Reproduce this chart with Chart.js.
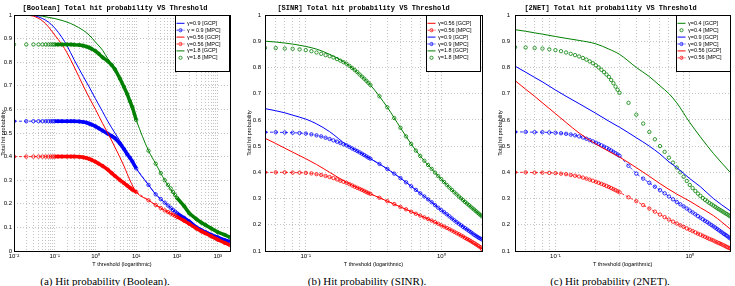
<!DOCTYPE html>
<html>
<head>
<meta charset="utf-8">
<script src="https://cdn.jsdelivr.net/npm/chart.js@4.4.1/dist/chart.umd.min.js"></script>
<style>
    body { margin: 0; background: #fff; width: 735px; height: 286px; overflow: hidden; position: relative; }
    canvas { position: absolute; top: 0; }
    .caption { position: absolute; top: 275px; width: 220px; line-height: 12px; text-align: center;
               font: 11px "Liberation Serif", "DejaVu Serif", serif; color: #000; white-space: nowrap; }
</style>
</head>
<body>
<canvas id="boolChart" width="240" height="270" style="left:0px"></canvas>
<canvas id="sinrChart" width="242" height="270" style="left:245px"></canvas>
<canvas id="netChart" width="245" height="270" style="left:490px"></canvas>
<div class="caption" style="left:-5px">(a) Hit probability (Boolean).</div>
<div class="caption" style="left:257px">(b) Hit probability (SINR).</div>
<div class="caption" style="left:500px">(c) Hit probability (2NET).</div>

<script>
// ---- (a) Boolean ----
const boolDecades = [0.01, 0.1, 1, 10, 100, 1000];
const boolTickLabels = ['10⁻²', '10⁻¹', '10⁰', '10¹', '10²', '10³'];

const boolGcpX = [0.01, 0.02, 0.03, 0.05, 0.07, 0.1, 0.15, 0.2, 0.3, 0.5, 0.7, 1, 1.5, 2, 3, 5, 7, 10, 20, 30, 50, 100, 200, 500, 1000, 2000];
const boolBlueGcp  = [1, 1, 0.998, 0.985, 0.97, 0.945, 0.905, 0.87, 0.81, 0.74, 0.695, 0.645, 0.59, 0.55, 0.50, 0.44, 0.40, 0.35, 0.28, 0.24, 0.205, 0.16, 0.125, 0.08, 0.058, 0.04];
const boolRedGcp   = [1, 0.999, 0.995, 0.975, 0.95, 0.915, 0.875, 0.84, 0.78, 0.70, 0.65, 0.60, 0.54, 0.50, 0.44, 0.36, 0.30, 0.25, 0.215, 0.195, 0.172, 0.145, 0.115, 0.075, 0.048, 0.025];
const boolGreenGcp = [1, 1, 0.999, 0.995, 0.99, 0.985, 0.977, 0.97, 0.957, 0.935, 0.915, 0.885, 0.85, 0.815, 0.77, 0.695, 0.635, 0.555, 0.425, 0.37, 0.30, 0.225, 0.16, 0.11, 0.08, 0.058];

const boolMpcX = [0.01, 0.02, 0.03, 0.04, 0.05, 0.06, 0.07, 0.08, 0.09,
    0.1, 0.12, 0.15, 0.2, 0.25, 0.3, 0.4, 0.5, 0.6, 0.7, 0.8, 1, 1.2, 1.5, 2, 2.5, 3, 4, 5, 6, 7, 8, 10,
    20, 30, 40, 50, 60, 70, 80, 90, 100, 150, 200, 300, 400, 500, 700, 1000, 1500, 2000];
const boolBlueMpc = [0.55, 0.55, 0.55, 0.55, 0.55, 0.55, 0.55, 0.55, 0.55,
    0.55, 0.55, 0.55, 0.55, 0.55, 0.55, 0.549, 0.547, 0.544, 0.54, 0.536, 0.528, 0.52, 0.51, 0.497, 0.487, 0.478, 0.455, 0.432, 0.41, 0.395, 0.38, 0.35,
    0.28, 0.24, 0.22, 0.205, 0.193, 0.183, 0.174, 0.167, 0.16, 0.14, 0.125, 0.10, 0.088, 0.08, 0.068, 0.058, 0.046, 0.04];
const boolRedMpc = [0.40, 0.40, 0.40, 0.40, 0.40, 0.40, 0.40, 0.40, 0.40,
    0.40, 0.40, 0.40, 0.40, 0.40, 0.40, 0.399, 0.397, 0.394, 0.39, 0.386, 0.378, 0.37, 0.36, 0.345, 0.33, 0.318, 0.30, 0.288, 0.277, 0.268, 0.26, 0.25,
    0.215, 0.195, 0.182, 0.172, 0.165, 0.159, 0.154, 0.149, 0.145, 0.128, 0.115, 0.095, 0.083, 0.075, 0.062, 0.048, 0.034, 0.025];
const boolGreenMpc = [0.875, 0.875, 0.875, 0.875, 0.875, 0.875, 0.875, 0.875, 0.875,
    0.875, 0.875, 0.875, 0.875, 0.875, 0.874, 0.873, 0.87, 0.866, 0.862, 0.857, 0.847, 0.836, 0.82, 0.805, 0.788, 0.77, 0.73, 0.695, 0.665, 0.635, 0.61, 0.555,
    0.425, 0.37, 0.33, 0.30, 0.28, 0.265, 0.25, 0.237, 0.225, 0.19, 0.16, 0.135, 0.12, 0.11, 0.095, 0.08, 0.068, 0.058];

// ---- (b) SINR and (c) 2NET share the threshold sweep ----
const sweepDecades = [0.1, 1];
const sweepTickLabels = ['10⁻¹', '10⁰'];
const gcpX = [0.05, 0.06, 0.07, 0.08, 0.1, 0.12, 0.15, 0.2, 0.25, 0.3, 0.4, 0.5, 0.6, 0.7, 0.8, 1, 1.2, 1.5, 2];
const mpcX = [0.05, 0.06, 0.07, 0.08, 0.09, 0.10, 0.11, 0.12, 0.13, 0.14, 0.15, 0.16, 0.17, 0.18, 0.19, 0.20,
    0.21, 0.22, 0.23, 0.24, 0.25, 0.26, 0.27, 0.28, 0.29, 0.30,
    0.35, 0.40, 0.45, 0.50, 0.55, 0.60, 0.65, 0.70, 0.75, 0.80, 0.85, 0.90, 0.95, 1.00,
    1.05, 1.10, 1.15, 1.20, 1.25, 1.30, 1.35, 1.40, 1.45, 1.50, 1.55, 1.60, 1.65, 1.70, 1.75, 1.80, 1.85, 1.90, 1.95, 2.00];

const sinrRedGcp   = [0.53, 0.51, 0.492, 0.477, 0.452, 0.43, 0.40, 0.362, 0.337, 0.318, 0.29, 0.268, 0.25, 0.235, 0.222, 0.198, 0.178, 0.15, 0.108];
const sinrBlueGcp  = [0.643, 0.635, 0.627, 0.618, 0.603, 0.585, 0.555, 0.505, 0.476, 0.452, 0.413, 0.378, 0.347, 0.32, 0.297, 0.256, 0.224, 0.187, 0.144];
const sinrGreenGcp = [0.90, 0.897, 0.893, 0.889, 0.88, 0.87, 0.85, 0.814, 0.773, 0.733, 0.648, 0.57, 0.508, 0.462, 0.428, 0.374, 0.333, 0.287, 0.232];
const sinrRedMpc = [0.40, 0.40, 0.40, 0.399, 0.399, 0.398, 0.396, 0.393, 0.39, 0.386, 0.382, 0.378, 0.373, 0.368, 0.364, 0.36,
    0.355, 0.35, 0.345, 0.341, 0.337, 0.333, 0.329, 0.325, 0.321, 0.318,
    0.303, 0.29, 0.279, 0.268, 0.259, 0.25, 0.242, 0.235, 0.228, 0.222, 0.216, 0.21, 0.204, 0.198,
    0.193, 0.188, 0.183, 0.178, 0.173, 0.168, 0.164, 0.159, 0.155, 0.15, 0.146, 0.142, 0.138, 0.134, 0.13, 0.126, 0.122, 0.118, 0.114, 0.108];
const sinrBlueMpc = [0.553, 0.553, 0.552, 0.551, 0.55, 0.548, 0.545, 0.541, 0.537, 0.532, 0.527, 0.522, 0.517, 0.512, 0.507, 0.503,
    0.497, 0.491, 0.486, 0.481, 0.476, 0.471, 0.466, 0.461, 0.456, 0.452,
    0.432, 0.413, 0.395, 0.378, 0.362, 0.347, 0.333, 0.32, 0.308, 0.297, 0.286, 0.275, 0.265, 0.256,
    0.248, 0.24, 0.232, 0.224, 0.217, 0.21, 0.204, 0.198, 0.192, 0.187, 0.182, 0.177, 0.172, 0.167, 0.162, 0.158, 0.154, 0.15, 0.147, 0.144];
const sinrGreenMpc = [0.875, 0.874, 0.872, 0.871, 0.869, 0.866, 0.862, 0.857, 0.852, 0.847, 0.843, 0.838, 0.832, 0.826, 0.82, 0.814,
    0.806, 0.798, 0.79, 0.782, 0.773, 0.765, 0.757, 0.749, 0.741, 0.733,
    0.69, 0.648, 0.607, 0.57, 0.537, 0.508, 0.483, 0.462, 0.444, 0.428, 0.413, 0.399, 0.386, 0.374,
    0.363, 0.352, 0.342, 0.333, 0.324, 0.316, 0.308, 0.301, 0.294, 0.287, 0.281, 0.275, 0.269, 0.263, 0.258, 0.252, 0.247, 0.242, 0.237, 0.232];

const netGreenGcp = [0.944, 0.938, 0.932, 0.927, 0.918, 0.911, 0.903, 0.89, 0.87, 0.85, 0.80, 0.765, 0.73, 0.70, 0.665, 0.59, 0.535, 0.472, 0.40];
const netBlueGcp  = [0.805, 0.782, 0.762, 0.745, 0.714, 0.69, 0.662, 0.625, 0.595, 0.572, 0.532, 0.50, 0.47, 0.44, 0.418, 0.376, 0.345, 0.30, 0.253];
const netRedGcp   = [0.75, 0.717, 0.69, 0.665, 0.624, 0.59, 0.55, 0.508, 0.48, 0.458, 0.418, 0.385, 0.357, 0.335, 0.317, 0.29, 0.265, 0.235, 0.184];
const netGreenMpc = [0.877, 0.876, 0.874, 0.872, 0.869, 0.866, 0.862, 0.857, 0.852, 0.847, 0.842, 0.836, 0.83, 0.823, 0.816, 0.808,
    0.80, 0.791, 0.782, 0.773, 0.764, 0.752, 0.74, 0.727, 0.715, 0.703,
    0.665, 0.62, 0.586, 0.554, 0.526, 0.50, 0.478, 0.456, 0.437, 0.418, 0.40, 0.383, 0.367, 0.352,
    0.34, 0.329, 0.319, 0.31, 0.302, 0.295, 0.289, 0.283, 0.278, 0.273, 0.268, 0.263, 0.259, 0.255, 0.251, 0.247, 0.243, 0.24, 0.236, 0.232];
const netBlueMpc = [0.554, 0.554, 0.553, 0.553, 0.552, 0.551, 0.549, 0.547, 0.544, 0.541, 0.537, 0.533, 0.528, 0.523, 0.518, 0.513,
    0.508, 0.503, 0.498, 0.493, 0.488, 0.483, 0.478, 0.473, 0.468, 0.463,
    0.425, 0.395, 0.376, 0.36, 0.345, 0.332, 0.32, 0.308, 0.297, 0.287, 0.278, 0.27, 0.262, 0.254,
    0.247, 0.24, 0.233, 0.227, 0.221, 0.215, 0.21, 0.204, 0.199, 0.194, 0.189, 0.184, 0.179, 0.174, 0.17, 0.165, 0.161, 0.157, 0.152, 0.148];
const netRedMpc = [0.40, 0.40, 0.399, 0.399, 0.398, 0.397, 0.395, 0.393, 0.39, 0.387, 0.384, 0.38, 0.376, 0.372, 0.368, 0.364,
    0.36, 0.356, 0.352, 0.348, 0.344, 0.34, 0.336, 0.332, 0.328, 0.324,
    0.305, 0.29, 0.275, 0.262, 0.25, 0.239, 0.229, 0.22, 0.212, 0.205, 0.198, 0.192, 0.186, 0.181,
    0.176, 0.171, 0.166, 0.162, 0.158, 0.154, 0.15, 0.146, 0.143, 0.14, 0.136, 0.133, 0.13, 0.127, 0.124, 0.121, 0.118, 0.115, 0.112, 0.11];

const BLUE = '#0000ff', RED = '#ff0000', GREEN = '#008000';
const SANS = '"Liberation Sans", Arial, sans-serif';

Chart.defaults.font.family = SANS;
Chart.defaults.color = '#000';

function points(xs, ys) {
    return xs.map((x, i) => ({ x: x, y: ys[i] }));
}

// solid analytic curve
function gcpLine(label, color, xs, ys) {
    return {
        label, data: points(xs, ys), borderColor: color, borderWidth: 1,
        pointRadius: 0, cubicInterpolationMode: 'monotone', legendKind: 'line'
    };
}

// simulated points, 'o' markers; band = x ranges where markers are packed into a thick strip
function mpcMarks(label, color, xs, ys, withLine, band) {
    const inBand = (c) => !!band && band.some(r => c.p0.parsed.x >= r[0] && c.p1.parsed.x <= r[1]);
    const ds = {
        label, data: points(xs, ys), borderColor: color, borderWidth: 0.8, borderDash: [3, 2],
        pointRadius: 1.7, pointBorderWidth: 0.8, pointBorderColor: color, pointBackgroundColor: 'rgba(0,0,0,0)',
        showLine: withLine || !!band, legendKind: withLine ? 'dashmark' : 'mark'
    };
    if (band) {
        ds.segment = {
            borderWidth: c => inBand(c) ? 3.5 : 0.8,
            borderDash: c => inBand(c) ? [] : [3, 2],
            borderColor: c => (inBand(c) || withLine) ? color : 'rgba(0,0,0,0)'
        };
    }
    return ds;
}

// MATLAB-like box around the axes
const axesFrame = {
    id: 'axesFrame',
    afterDraw(chart) {
        const { ctx, chartArea: a } = chart;
        ctx.save();
        ctx.strokeStyle = '#000';
        ctx.lineWidth = 1;
        ctx.strokeRect(Math.round(a.left) + 0.5, Math.round(a.top) + 0.5,
            Math.round(a.right - a.left), Math.round(a.bottom - a.top));
        ctx.restore();
    }
};

// legend box in the upper right corner of the axes
const boxLegend = {
    id: 'boxLegend',
    afterDatasetsDraw(chart, args, opts) {
        const { ctx, chartArea: a } = chart;
        const w = 54, h = 56, rowH = 6.9;
        const x0 = Math.round(a.right - w - opts.inset), y0 = Math.round(a.top);
        ctx.save();
        ctx.fillStyle = '#fff';
        ctx.fillRect(x0, y0, w, h);
        ctx.strokeStyle = '#000';
        ctx.lineWidth = 1;
        ctx.strokeRect(x0 + 0.5, y0 + 0.5, w, h);
        ctx.font = '5.5px ' + SANS;
        ctx.textBaseline = 'middle';
        chart.data.datasets.forEach((ds, i) => {
            const y = y0 + 8.3 + i * rowH;
            const color = ds.borderColor;
            ctx.strokeStyle = color;
            if (ds.legendKind !== 'mark') {
                ctx.lineWidth = ds.legendKind === 'line' ? 1 : 0.8;
                ctx.setLineDash(ds.legendKind === 'line' ? [] : [2, 1.5]);
                ctx.beginPath();
                ctx.moveTo(x0 + 1.5, y);
                ctx.lineTo(x0 + 9.5, y);
                ctx.stroke();
                ctx.setLineDash([]);
            }
            if (ds.legendKind !== 'line') {
                ctx.lineWidth = 0.8;
                ctx.beginPath();
                ctx.arc(x0 + 5.5, y, 1.6, 0, Math.PI * 2);
                ctx.stroke();
            }
            ctx.fillStyle = '#000';
            ctx.fillText(ds.label, x0 + 12, y);
        });
        ctx.restore();
    }
};

function logGrid(min, max) {
    const grid = [];
    for (let k = Math.floor(Math.log10(min)); k <= Math.floor(Math.log10(max)); k++) {
        for (let m = 1; m <= 9; m++) {
            const v = m * Math.pow(10, k);
            if (v >= min * 0.999 && v <= max * 1.001) grid.push(v);
        }
    }
    return grid;
}

function makePlot(id, spec) {
    const grid = logGrid(spec.xMin, spec.xMax);
    const n = spec.datasets.length;
    spec.datasets.forEach((ds, i) => { ds.order = n - i; });
    const gridLine = { color: '#c4c4c4', lineWidth: 1, drawTicks: false };
    const dotted = { display: false, dash: [1, 2] };
    new Chart(document.getElementById(id), {
        type: 'line',
        data: { datasets: spec.datasets },
        options: {
            responsive: false,
            animation: false,
            events: [],
            layout: { padding: { left: 0, right: spec.padRight, top: 0, bottom: 0 } },
            scales: {
                x: {
                    type: 'logarithmic', min: spec.xMin, max: spec.xMax,
                    afterBuildTicks: s => { s.ticks = grid.map(v => ({ value: v })); },
                    afterFit: s => { s.height = 19; },
                    ticks: {
                        autoSkip: false, maxRotation: 0, padding: 2, font: { size: 6 },
                        callback: v => {
                            const i = spec.decades.findIndex(d => Math.abs(d - v) < d * 1e-6);
                            return i >= 0 ? spec.tickLabels[i] : '';
                        }
                    },
                    grid: gridLine, border: dotted,
                    title: { display: true, text: 'T threshold (logarithmic)', font: { size: 5.5 }, padding: { top: 0, bottom: 2 } }
                },
                y: {
                    type: 'linear', min: spec.yMin, max: 1,
                    afterFit: s => { s.width = spec.yWidth; },
                    ticks: { stepSize: 0.1, padding: spec.yLabelPad, font: { size: 6 }, callback: v => String(+v.toFixed(1)) },
                    grid: gridLine, border: dotted,
                    title: { display: true, text: 'Total hit probability', font: { size: 5.5 }, padding: { top: spec.yTitlePad, bottom: 0 } }
                }
            },
            plugins: {
                legend: { display: false },
                tooltip: { enabled: false },
                title: {
                    display: true, text: spec.title, color: '#000',
                    font: { family: '"Liberation Mono", "DejaVu Sans Mono", monospace', size: 7, weight: 'bold', lineHeight: 1.2 },
                    padding: { top: 4, bottom: 2.6 }
                },
                boxLegend: { inset: spec.legendInset }
            }
        },
        plugins: [boxLegend, axesFrame]
    });
}

const boolBand = [[0.1, 10], [100, 2000]];

makePlot('boolChart', {
    title: '[Boolean] Total hit probability VS Threshold',
    xMin: 0.01, xMax: 2000, yMin: 0, decades: boolDecades, tickLabels: boolTickLabels,
    yWidth: 14, yLabelPad: 2, yTitlePad: 0, padRight: 10, legendInset: 1,
    datasets: [
        gcpLine('γ=0.9 [GCP]', BLUE, boolGcpX, boolBlueGcp),
        mpcMarks('γ = 0.9 [MPC]', BLUE, boolMpcX, boolBlueMpc, true, boolBand),
        gcpLine('γ=0.56 [GCP]', RED, boolGcpX, boolRedGcp),
        mpcMarks('γ=0.56 [MPC]', RED, boolMpcX, boolRedMpc, true, boolBand),
        gcpLine('γ=1.8 [GCP]', GREEN, boolGcpX, boolGreenGcp),
        mpcMarks('γ=1.8 [MPC]', GREEN, boolMpcX, boolGreenMpc, false, boolBand)
    ]
});

makePlot('sinrChart', {
    title: '[SINR] Total hit probability VS Threshold',
    xMin: 0.05, xMax: 2, yMin: 0.1, decades: sweepDecades, tickLabels: sweepTickLabels,
    yWidth: 20, yLabelPad: 4, yTitlePad: 0.7, padRight: 5, legendInset: 2,
    datasets: [
        gcpLine('γ=0.56 [GCP]', RED, gcpX, sinrRedGcp),
        mpcMarks('γ=0.56 [MPC]', RED, mpcX, sinrRedMpc, true),
        gcpLine('γ=0.9 [GCP]', BLUE, gcpX, sinrBlueGcp),
        mpcMarks('γ=0.9 [MPC]', BLUE, mpcX, sinrBlueMpc, true),
        gcpLine('γ=1.8 [GCP]', GREEN, gcpX, sinrGreenGcp),
        mpcMarks('γ=1.8 [MPC]', GREEN, mpcX, sinrGreenMpc, false)
    ]
});

makePlot('netChart', {
    title: '[2NET] Total hit probability VS Threshold',
    xMin: 0.05, xMax: 2, yMin: 0.1, decades: sweepDecades, tickLabels: sweepTickLabels,
    yWidth: 25, yLabelPad: 5, yTitlePad: 6.7, padRight: 4, legendInset: 0,
    datasets: [
        gcpLine('γ=0.4 [GCP]', GREEN, gcpX, netGreenGcp),
        mpcMarks('γ=0.4 [MPC]', GREEN, mpcX, netGreenMpc, false),
        gcpLine('γ=0.9 [GCP]', BLUE, gcpX, netBlueGcp),
        mpcMarks('γ=0.9 [MPC]', BLUE, mpcX, netBlueMpc, true),
        gcpLine('γ=0.56 [GCP]', RED, gcpX, netRedGcp),
        mpcMarks('γ=0.56 [MPC]', RED, mpcX, netRedMpc, true)
    ]
});
</script>
</body>
</html>
